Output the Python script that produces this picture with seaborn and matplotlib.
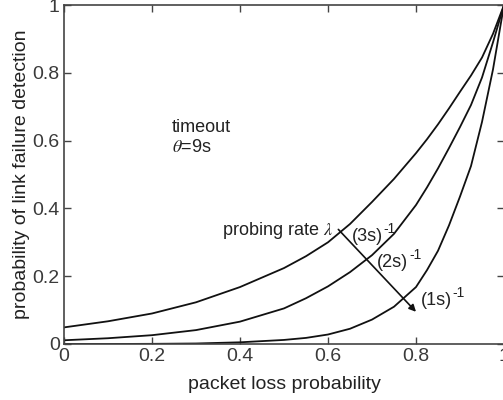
import numpy as np
import pandas as pd
import matplotlib
matplotlib.use("Agg")
import matplotlib.pyplot as plt
import seaborn as sns

# packet loss probability grid (read points)
loss = [0.0, 0.1, 0.2, 0.3, 0.4, 0.5, 0.55, 0.6, 0.65, 0.7, 0.75, 0.8, 0.825, 0.85, 0.875, 0.9, 0.925, 0.95, 0.975, 1.0]
# detection probability, probing rate (3s)^-1
rate_3s = [0.049, 0.067, 0.090, 0.123, 0.168, 0.224, 0.259, 0.300, 0.354, 0.419, 0.487, 0.563, 0.604, 0.648, 0.695, 0.744, 0.792, 0.845, 0.915, 1.0]
# probing rate (2s)^-1
rate_2s = [0.011, 0.017, 0.026, 0.041, 0.066, 0.105, 0.135, 0.170, 0.212, 0.262, 0.325, 0.410, 0.462, 0.518, 0.578, 0.640, 0.705, 0.786, 0.890, 1.0]
# probing rate (1s)^-1
rate_1s = [0.0, 0.0, 0.0005, 0.0015, 0.005, 0.012, 0.018, 0.028, 0.045, 0.072, 0.110, 0.168, 0.218, 0.275, 0.350, 0.435, 0.525, 0.655, 0.810, 1.0]

series_names = ["(3s)", "(2s)", "(1s)"]
xticks = [0, 0.2, 0.4, 0.6, 0.8, 1]
xticklabels = ["0", "0.2", "0.4", "0.6", "0.8", "1"]
yticks = [0, 0.2, 0.4, 0.6, 0.8, 1]
yticklabels = ["0", "0.2", "0.4", "0.6", "0.8", "1"]

df = pd.DataFrame({
    "loss": loss * 3,
    "prob": rate_3s + rate_2s + rate_1s,
    "rate": [series_names[0]] * len(loss) + [series_names[1]] * len(loss) + [series_names[2]] * len(loss),
})

sns.set_theme(style="ticks")
plt.rcParams["font.family"] = ["Liberation Sans", "DejaVu Sans"]
plt.rcParams["mathtext.fontset"] = "stix"

fig = plt.figure(figsize=(5.03, 4.0), dpi=100)
ax = fig.add_axes([64 / 503, 56 / 400, 440 / 503, 339 / 400])

sns.lineplot(data=df, x="loss", y="prob", hue="rate", palette=["#111111"] * 3,
             linewidth=1.3, legend=False, ax=ax, estimator=None, sort=True)

ax.set_xlim(0, 1)
ax.set_ylim(0, 1)
ax.set_xticks(xticks)
ax.set_xticklabels(xticklabels)
ax.set_yticks(yticks)
ax.set_yticklabels(yticklabels)

spine_col = "#444444"
for s in ax.spines.values():
    s.set_visible(True)
    s.set_color(spine_col)
    s.set_linewidth(1.2)
ax.tick_params(direction="in", length=5, width=1.0, colors=spine_col,
               labelcolor="#3a3a3a", labelsize=14, top=True, right=True,
               labeltop=False, labelright=False, pad=3)

ax.set_xlabel("packet loss probability", fontsize=14, color="#222222", labelpad=8)
ax.set_ylabel("probability of link failure detection", fontsize=14, color="#222222", labelpad=2)

txt = dict(fontsize=13, color="#222222")
ax.text(0.246, 0.639, "timeout", ha="left", va="center", **txt)
ax.text(0.246, 0.58, r"$\theta$=9s", ha="left", va="center", **txt)
ax.text(0.611, 0.334, r"probing rate $\lambda$", ha="right", va="center", **txt)

label_pos = [(0.654, 0.318), (0.712, 0.241), (0.811, 0.128)]
for name, (lx, ly) in zip(series_names, label_pos):
    t = ax.text(lx, ly, name, ha="left", va="center", **txt)
    ax.annotate("-1", xy=(1.0, 0.95), xycoords=t, xytext=(0.5, 0),
                textcoords="offset points", ha="left", va="center",
                fontsize=10, color="#222222")

ax.annotate("", xy=(0.80, 0.095), xytext=(0.6235, 0.338),
            arrowprops=dict(arrowstyle="-|>", color="#111111", lw=1.2,
                            mutation_scale=10, shrinkA=0, shrinkB=0))

fig.savefig("out.png", dpi=100)
